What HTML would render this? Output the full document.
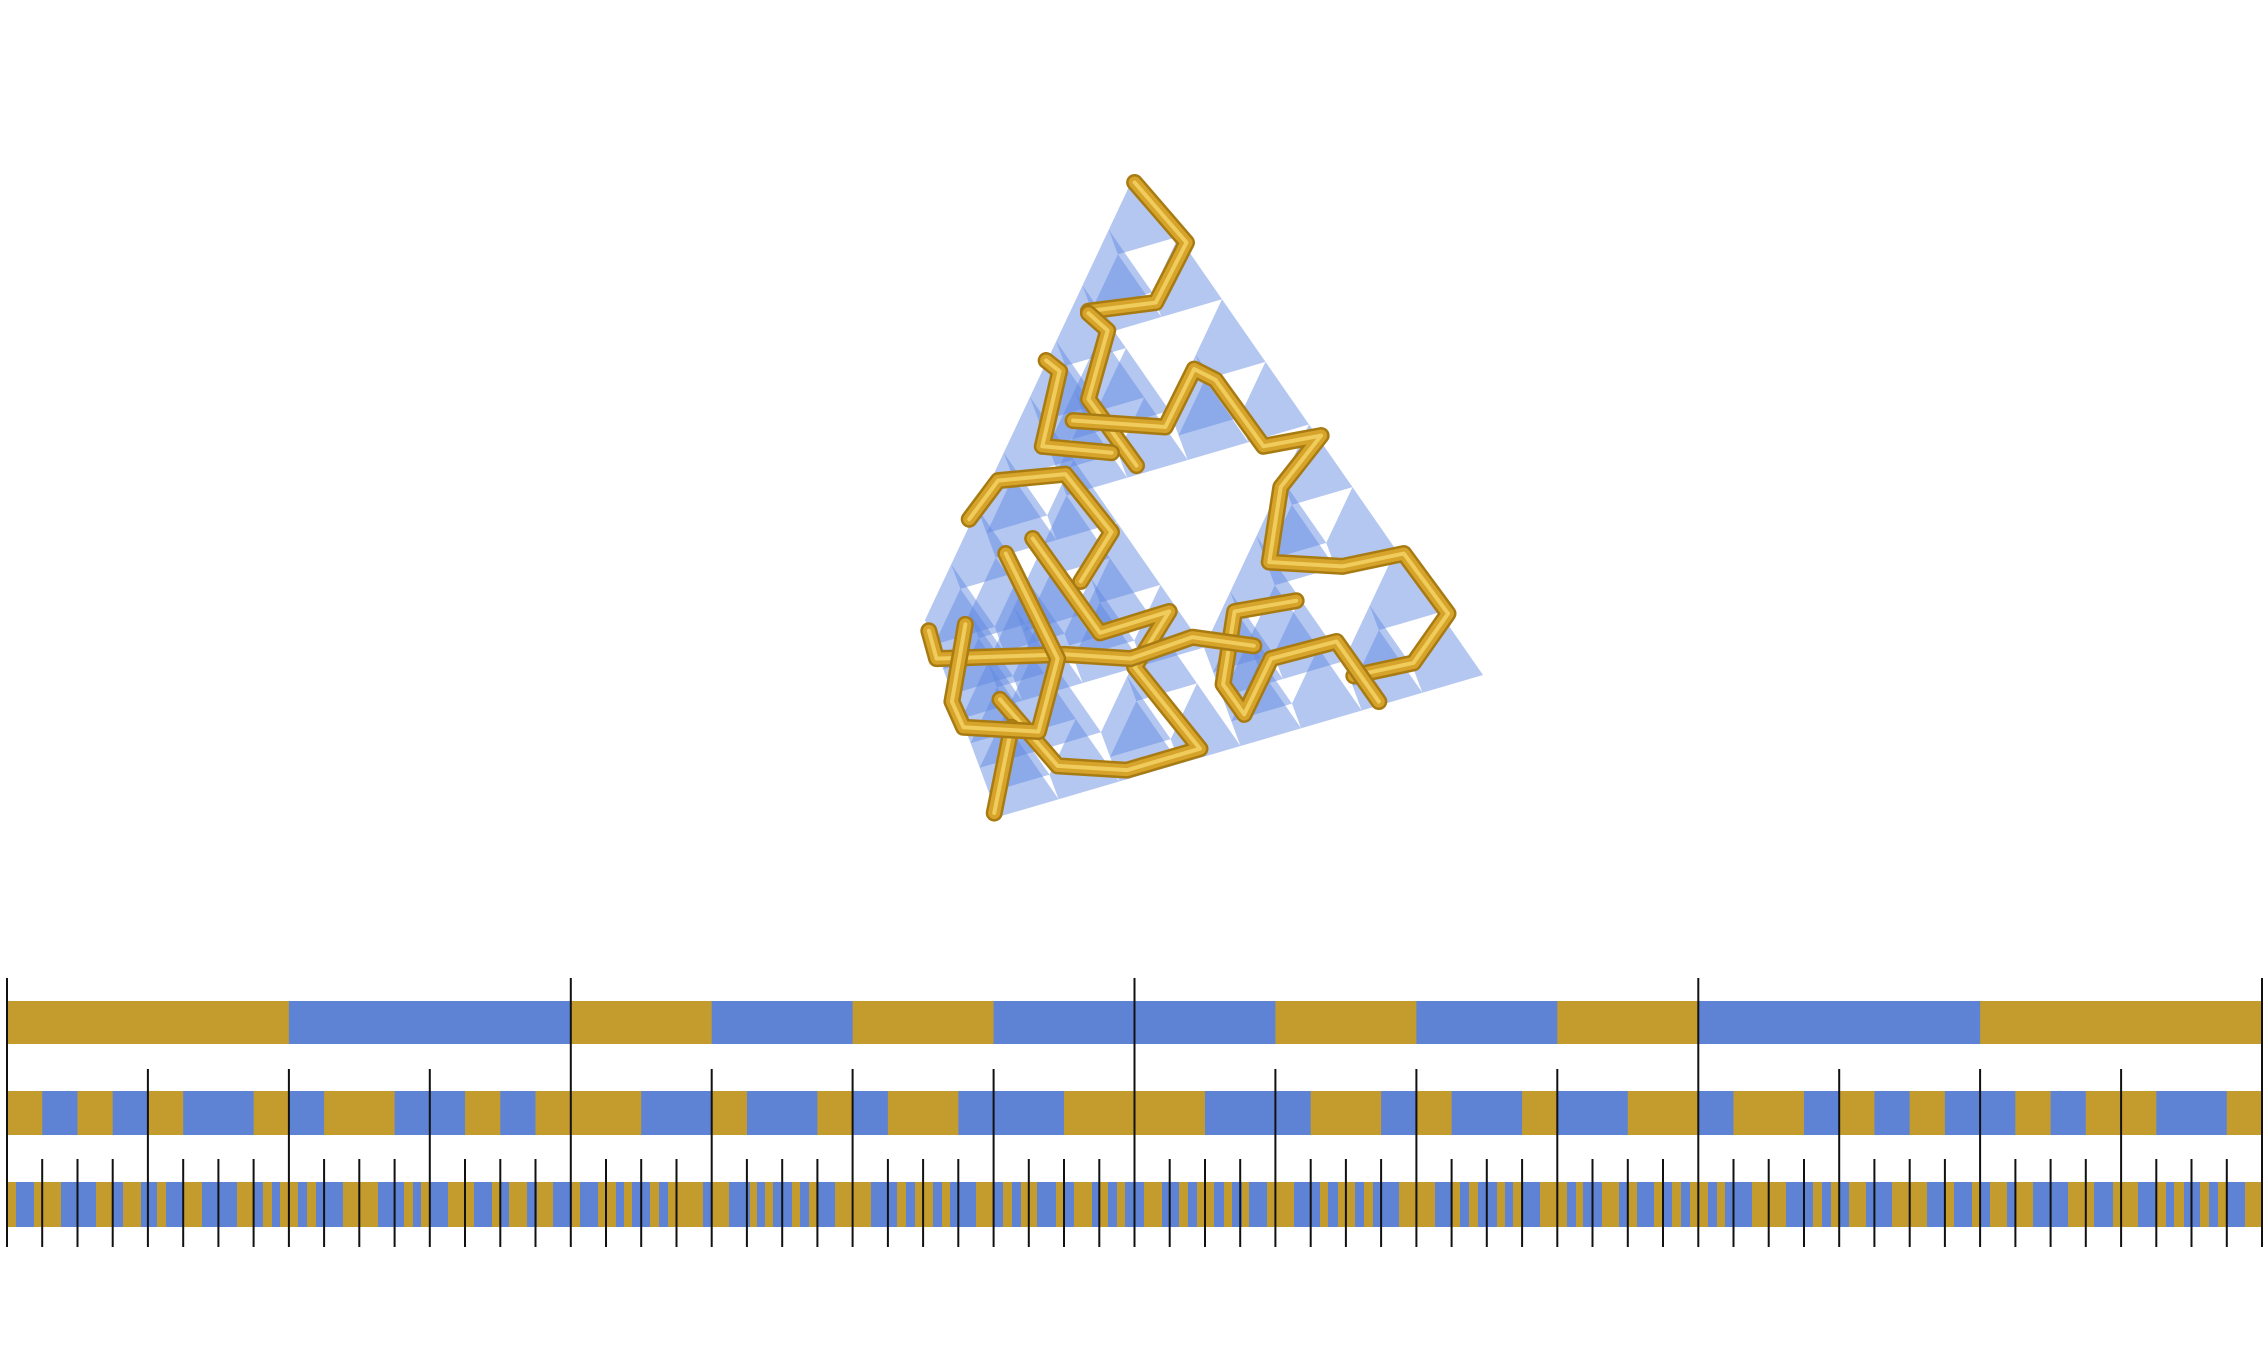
<!DOCTYPE html>
<html><head><meta charset="utf-8"><style>
html,body{margin:0;padding:0;background:#fff;}
#c{position:relative;width:2268px;height:1360px;overflow:hidden;background:#fff;}
svg{position:absolute;left:0;top:0;}
</style></head><body><div id="c">
<svg id="s" width="2268" height="1360" viewBox="0 0 2268 1360" xmlns="http://www.w3.org/2000/svg">
<g id="tet"></g>
<g id="path" transform="translate(900,161) scale(0.3846,0.429)" fill="none" stroke-linecap="round" stroke-linejoin="round"></g>
<g id="bars"></g>
<g id="ticks" stroke="#111" stroke-width="2"></g>
</svg>
</div>
<script>
var NS="http://www.w3.org/2000/svg";
function el(t,a,p){var e=document.createElementNS(NS,t);for(var k in a)e.setAttribute(k,a[k]);p.appendChild(e);return e;}
var G="#C49C2E",B="#5E83D4";
var tet=document.getElementById("tet");
function mid(a,b){return [(a[0]+b[0])/2,(a[1]+b[1])/2];}
var faces=[];
function sub(v,l){
 if(l==0){var f=[[0,1,2],[0,1,3],[0,2,3],[1,2,3]];f.forEach(function(q){faces.push([v[q[0]],v[q[1]],v[q[2]]]);});return;}
 var m01=mid(v[0],v[1]),m02=mid(v[0],v[2]),m03=mid(v[0],v[3]),m12=mid(v[1],v[2]),m13=mid(v[1],v[3]),m23=mid(v[2],v[3]);
 sub([v[0],m01,m02,m03],l-1);sub([m01,v[1],m12,m13],l-1);sub([m02,m12,v[2],m23],l-1);sub([m03,m13,m23,v[3]],l-1);
}
sub([[1135,174],[925,620],[998,817],[1483,675]],3);
faces.forEach(function(f){el("polygon",{points:f.map(function(p){return p.join(",");}).join(" "),fill:"rgba(95,135,225,0.27)"},tet);});
var pg=document.getElementById("path");
var P=[
[[610,50],[745,190],[665,330],[490,350]],
[[490,355],[540,395],[490,555],[615,710]],
[[380,465],[415,490],[370,665],[550,680]],
[[450,605],[690,620],[765,485],[820,510],[945,665],[1095,640],[990,760],[960,935],[1150,945],[1310,915],[1425,1055],[1335,1170],[1180,1200]],
[[1245,1260],[1135,1120],[965,1160],[895,1290],[840,1220],[870,1050],[1030,1025]],
[[180,835],[255,745],[430,730],[550,865],[470,980]],
[[345,880],[520,1100],[700,1050],[610,1180],[780,1370],[590,1420],[410,1410],[260,1255]],
[[290,1320],[245,1520]],
[[75,1095],[95,1160],[430,1150],[600,1160],[760,1110],[920,1130]],
[[170,1080],[135,1260],[165,1320],[360,1330],[410,1160],[275,915]]
];
P.forEach(function(l){var d=l.map(function(p){return p.join(",");}).join(" ");
 el("polyline",{points:d,stroke:"#A87B12","stroke-width":17,"vector-effect":"non-scaling-stroke"},pg);
 el("polyline",{points:d,stroke:"#D6A42A","stroke-width":12,"vector-effect":"non-scaling-stroke"},pg);
 el("polyline",{points:d,stroke:"#F0CC5C","stroke-width":4,"vector-effect":"non-scaling-stroke"},pg);
});
var bars=document.getElementById("bars");
var X0=7,W=2255;
function row(bounds,y,h){for(var i=0;i<bounds.length-1;i++){el("rect",{x:bounds[i],y:y,width:bounds[i+1]-bounds[i]+0.5,height:h,fill:i%2==0?G:B},bars);}}
var r1=[0,2,4,5,6,7,9,10,11,12,14,16].map(function(u){return X0+u*W/16;});
row(r1,1001,43);
var r2=[0,1,2,3,4,5,7,8,9,11,13,14,15,18,20,21,23,24,25,27,30,34,37,39,40,41,43,44,46,48,49,51,52,53,54,55,57,58,59,61,63,64].map(function(u){return X0+u*W/64;});
row(r2,1091,44);
var r3=[7,16,34,61,96,113,123,141,157,166,183,202,237,254,263,272,280,298,307,316,343,378,404,413,421,430,448,474,492,501,509,527,537,553,572,580,598,616,624,632,650,659,668,703,712,729,750,757,765,773,792,800,809,818,835,871,897,906,915,933,942,950,976,994,1003,1012,1021,1037,1056,1065,1074,1092,1099,1108,1117,1125,1144,1162,1179,1188,1197,1214,1224,1232,1242,1249,1267,1294,1320,1328,1338,1355,1364,1373,1399,1435,1452,1460,1469,1478,1497,1505,1513,1523,1540,1567,1576,1583,1602,1619,1628,1637,1654,1663,1672,1681,1690,1708,1717,1725,1752,1786,1813,1822,1831,1840,1849,1866,1892,1927,1945,1954,1972,1981,1990,2007,2015,2033,2068,2094,2113,2138,2157,2166,2174,2184,2200,2209,2218,2227,2245,2262];
row(r3,1182,45);
var tk=document.getElementById("ticks");
for(var k=0;k<=64;k++){var x=X0+k*W/64;var y1=1159;if(k%16==0)y1=978;else if(k%4==0)y1=1069;
 el("line",{x1:x.toFixed(1),x2:x.toFixed(1),y1:y1,y2:1247},tk);}
</script>
</body></html>
